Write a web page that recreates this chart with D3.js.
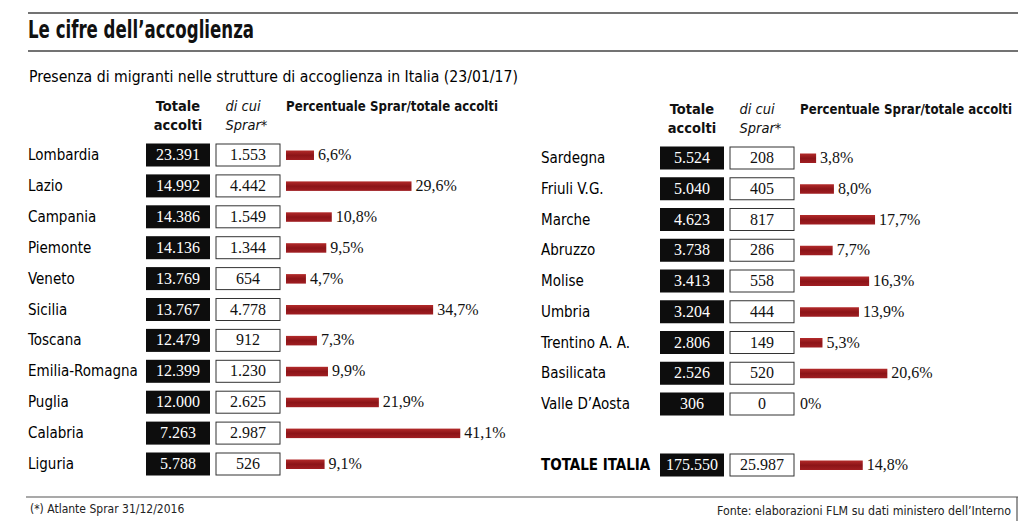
<!DOCTYPE html>
<html><head><meta charset="utf-8">
<script src="https://cdn.jsdelivr.net/npm/d3@7"></script>
<style>
html,body{margin:0;padding:0;background:#fff;}
svg{display:block;}
.lbl{font-family:"DejaVu Sans Condensed","DejaVu Sans",sans-serif;font-size:15px;fill:#000;}
.num{font-family:"Liberation Serif",serif;font-size:16px;}
.hdr{font-family:"DejaVu Sans Condensed","DejaVu Sans",sans-serif;font-size:14.5px;font-weight:bold;fill:#111;}
.hdri{font-family:"DejaVu Sans Condensed","DejaVu Sans",sans-serif;font-size:14.5px;font-style:italic;fill:#111;}
</style></head>
<body>
<script>
// ---- data ----
const leftRegions = ["Lombardia","Lazio","Campania","Piemonte","Veneto","Sicilia","Toscana","Emilia-Romagna","Puglia","Calabria","Liguria"];
const leftTotale  = ["23.391","14.992","14.386","14.136","13.769","13.767","12.479","12.399","12.000","7.263","5.788"];
const leftSprar   = ["1.553","4.442","1.549","1.344","654","4.778","912","1.230","2.625","2.987","526"];
const leftPct     = [6.6,29.6,10.8,9.5,4.7,34.7,7.3,9.9,21.9,41.1,9.1];

const rightRegions = ["Sardegna","Friuli V.G.","Marche","Abruzzo","Molise","Umbria","Trentino A. A.","Basilicata","Valle D’Aosta"];
const rightTotale  = ["5.524","5.040","4.623","3.738","3.413","3.204","2.806","2.526","306"];
const rightSprar   = ["208","405","817","286","558","444","149","520","0"];
const rightPct     = [3.8,8.0,17.7,7.7,16.3,13.9,5.3,20.6,0];

const totalLabel = ["TOTALE ITALIA"];
const totalTotale = ["175.550"];
const totalSprar = ["25.987"];
const totalPct = [14.8];

const W = 1024, H = 521;
const svg = d3.select("body").append("svg").attr("width", W).attr("height", H);

const fmtPct = v => v === 0 ? "0%" : d3.format(".1f")(v).replace(".", ",") + "%";

// rules
const rule = (x1,x2,y,sw,col) => svg.append("line").attr("x1",x1).attr("x2",x2).attr("y1",y).attr("y2",y)
  .attr("stroke",col||"#333").attr("stroke-width",sw||1.5);
rule(28,1018,13,1.6,"#444");
rule(28,1018,51,1.6,"#444");
rule(26,1018,497,1.2,"#555");
svg.append("line").attr("x1",1017).attr("x2",1017).attr("y1",497).attr("y2",521).attr("stroke","#555").attr("stroke-width",1.2);

svg.append("text").attr("x",28).attr("y",38)
  .attr("font-family","'DejaVu Sans Condensed','DejaVu Sans',sans-serif").attr("font-weight","bold")
  .attr("font-size",25).attr("fill","#111").attr("textLength",226).attr("lengthAdjust","spacingAndGlyphs")
  .text("Le cifre dell’accoglienza");
svg.append("text").attr("x",29).attr("y",82).attr("class","lbl").attr("font-size",15)
  .attr("textLength",489).attr("lengthAdjust","spacingAndGlyphs")
  .text("Presenza di migranti nelle strutture di accoglienza in Italia (23/01/17)");

svg.append("text").attr("x",30).attr("y",513)
  .attr("font-family","'DejaVu Sans Condensed','DejaVu Sans',sans-serif").attr("font-size",12).attr("fill","#222")
  .text("(*) Atlante Sprar 31/12/2016");
svg.append("text").attr("x",1011).attr("y",515).attr("text-anchor","end")
  .attr("font-family","'DejaVu Sans Condensed','DejaVu Sans',sans-serif").attr("font-size",12).attr("fill","#222")
  .attr("textLength",294).attr("lengthAdjust","spacingAndGlyphs")
  .text("Fonte: elaborazioni FLM su dati ministero dell’Interno");

// percentage scale
const x = d3.scaleLinear().domain([0, 45]).range([0, 190.8]);

const defs = svg.append("defs");
const grad = defs.append("linearGradient").attr("id","barGrad").attr("x1",0).attr("y1",0).attr("x2",0).attr("y2",1);
grad.append("stop").attr("offset","0%").attr("stop-color","#b32a2a");
grad.append("stop").attr("offset","50%").attr("stop-color","#8c1418");
grad.append("stop").attr("offset","100%").attr("stop-color","#a01e22");

function drawRows(g, cfg) {
  const {regions, totale, sprar, pct, yScale, blackX, whiteX, barX, labelX} = cfg;
  const rows = g.selectAll("g.row").data(regions.map((r,i)=>({r, t:totale[i], s:sprar[i], p:pct[i], i})))
    .join("g").attr("class","row").attr("transform", d => `translate(0,${yScale(d.i)})`);
  rows.append("text").attr("class","lbl").attr("x",labelX).attr("y",5).text(d=>d.r)
    .attr("font-weight", cfg.bold ? "bold" : null);
  rows.append("rect").attr("x",blackX).attr("y",-11.5).attr("width",64).attr("height",23).attr("fill","#0d0d0d");
  rows.append("text").attr("class","num").attr("x",blackX+32).attr("y",5).attr("text-anchor","middle").attr("fill","#fff").text(d=>d.t);
  rows.append("rect").attr("x",whiteX+0.5).attr("y",-11).attr("width",64).attr("height",22).attr("fill","#fff").attr("stroke","#333").attr("stroke-width",1);
  rows.append("text").attr("class","num").attr("x",whiteX+32.5).attr("y",5).attr("text-anchor","middle").attr("fill","#111").text(d=>d.s);
  rows.append("rect").attr("x",barX).attr("y",-4.5).attr("height",9.5).attr("width",d=>x(d.p)).attr("fill","url(#barGrad)");
  rows.append("text").attr("class","num").attr("x",d=>barX + x(d.p) + (d.p === 0 ? 0 : 4)).attr("y",5).attr("fill","#111").text(d=>fmtPct(d.p));
}
function drawHeader(g, cfg) {
  const {blackX, whiteX, barX, hdrY} = cfg;
  g.append("text").attr("class","hdr").attr("x",blackX+32).attr("y",hdrY).attr("text-anchor","middle").text("Totale");
  g.append("text").attr("class","hdr").attr("x",blackX+32).attr("y",hdrY+19).attr("text-anchor","middle").text("accolti");
  g.append("text").attr("class","hdri").attr("x",whiteX+10).attr("y",hdrY).text("di cui");
  g.append("text").attr("class","hdri").attr("x",whiteX+10).attr("y",hdrY+19).text("Sprar*");
  g.append("text").attr("class","hdr").attr("x",barX).attr("y",hdrY).style("font-size","13.3px")
    .attr("textLength",212).attr("lengthAdjust","spacingAndGlyphs").text("Percentuale Sprar/totale accolti");
}

const yLeft = d3.scaleLinear().domain([0, leftRegions.length-1]).range([155, 464]);
const yRight = d3.scaleLinear().domain([0, rightRegions.length-1]).range([158, 404]);
const yTot = d3.scaleLinear().domain([0, 1]).range([465, 496]);

const leftCfg = {regions:leftRegions, totale:leftTotale, sprar:leftSprar, pct:leftPct, yScale:yLeft,
  blackX:146, whiteX:215.5, barX:286, labelX:28, hdrY:111};
const rightCfg = {regions:rightRegions, totale:rightTotale, sprar:rightSprar, pct:rightPct, yScale:yRight,
  blackX:660, whiteX:729.5, barX:800, labelX:541, hdrY:114};
const totCfg = {regions:totalLabel, totale:totalTotale, sprar:totalSprar, pct:totalPct, yScale:yTot,
  blackX:660, whiteX:729.5, barX:800, labelX:541, bold:true};

drawHeader(svg.append("g"), leftCfg);
drawHeader(svg.append("g"), rightCfg);
drawRows(svg.append("g"), leftCfg);
drawRows(svg.append("g"), rightCfg);
drawRows(svg.append("g"), totCfg);
</script>
</body></html>
